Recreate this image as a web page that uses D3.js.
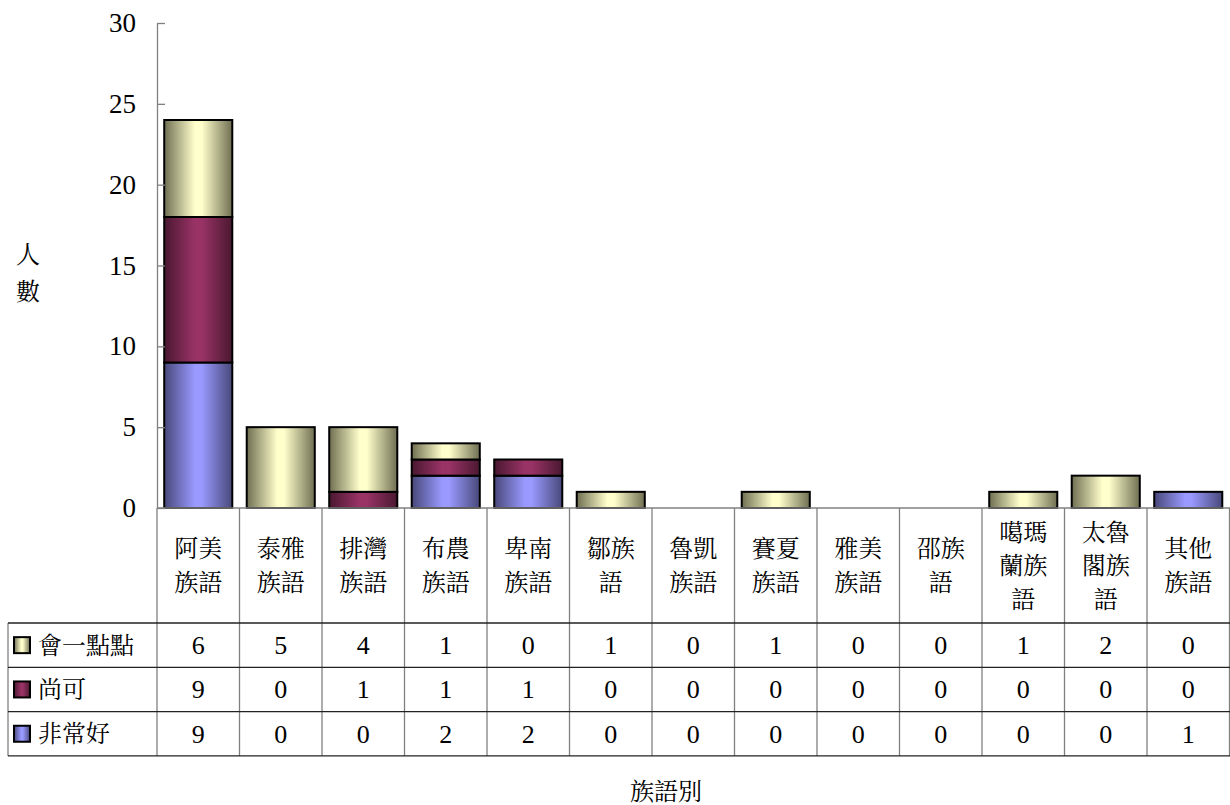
<!DOCTYPE html>
<html><head><meta charset="utf-8">
<script src="https://cdn.jsdelivr.net/npm/d3@7"></script>
<style>
body{margin:0;background:#fff;}
text{font-family:"Liberation Serif","Noto Serif CJK TC","Noto Sans CJK TC",serif;fill:#000;}
text.num{font-family:"Liberation Serif","Times New Roman",serif;}
</style></head>
<body><svg id="chart" width="1230" height="805"></svg>
<script>
const categories = ["阿美\n族語","泰雅\n族語","排灣\n族語","布農\n族語","卑南\n族語","鄒族\n語","魯凱\n族語","賽夏\n族語","雅美\n族語","邵族\n語","噶瑪\n蘭族\n語","太魯\n閣族\n語","其他\n族語"];
const seriesNames = ["會一點點","尚可","非常好"];
const huiYiDianDian = [6,5,4,1,0,1,0,1,0,0,1,2,0];
const shangKe = [9,0,1,1,1,0,0,0,0,0,0,0,0];
const feiChangHao = [9,0,0,2,2,0,0,0,0,0,0,0,1];
const yTicks = [0,5,10,15,20,25,30];
const yTitle = "人數";
const xTitle = "族語別";

const seriesData = [huiYiDianDian, shangKe, feiChangHao];
const colors = [
  {edge:"#6f6f52", mid:"#ffffcc"},
  {edge:"#4a1830", mid:"#993366"},
  {edge:"#48487a", mid:"#9999ff"}
];

const svg = d3.select("#chart");
const plotLeft = 157, plotRight = 1229.5, plotTop = 23, plotBottom = 508;
const tableLeft = 8;
const headerBottom = 623, rowH = 44.3;

const defs = svg.append("defs");
colors.forEach((c,i)=>{
  const g = defs.append("linearGradient").attr("id","g"+i).attr("x1","0").attr("x2","1").attr("y1","0").attr("y2","0");
  g.append("stop").attr("offset","0%").attr("stop-color",c.edge);
  g.append("stop").attr("offset","45%").attr("stop-color",c.mid);
  g.append("stop").attr("offset","55%").attr("stop-color",c.mid);
  g.append("stop").attr("offset","100%").attr("stop-color",c.edge);
});

const x = d3.scaleBand().domain(d3.range(categories.length)).range([plotLeft,plotRight]).paddingInner(0.175).paddingOuter(0.0875);
const xOuter = d3.scaleBand().domain(d3.range(categories.length)).range([plotLeft,plotRight]);
const y = d3.scaleLinear().domain([0,30]).range([plotBottom,plotTop]);

// stacked bars: bottom 非常好, then 尚可, then 會一點點
const stackOrder = [2,1,0];
const rows = categories.map((c,i)=>{
  const o = {i};
  seriesNames.forEach((s,k)=>{ o[s]=seriesData[k][i]; });
  return o;
});
const stack = d3.stack().keys(stackOrder.map(k=>seriesNames[k]));
const stacked = stack(rows);

stacked.forEach((layer,li)=>{
  const sIdx = stackOrder[li];
  svg.append("g").selectAll("rect").data(layer.filter(d=>d[1]-d[0]>0)).join("rect")
    .attr("x",d=>x(d.data.i)).attr("width",x.bandwidth())
    .attr("y",d=>y(d[1])).attr("height",d=>y(d[0])-y(d[1]))
    .attr("fill","url(#g"+sIdx+")").attr("stroke","#000").attr("stroke-width",2);
});

// y axis
const yAxis = d3.axisLeft(y).tickValues(yTicks).tickSizeInner(-8).tickSizeOuter(0).tickPadding(21);
const ya = svg.append("g").attr("transform",`translate(${plotLeft},0)`).call(yAxis);
ya.select(".domain").attr("stroke","#808080").attr("stroke-width",1.3);
ya.selectAll(".tick line").attr("stroke","#808080").attr("stroke-width",1.3);
ya.selectAll(".tick text").attr("class","num").attr("font-size",27).attr("fill","#000");

// table
const tg = svg.append("g");
tg.append("line").attr("x1",plotLeft).attr("x2",1230).attr("y1",plotBottom).attr("y2",plotBottom).attr("stroke","#808080").attr("stroke-width",1.3);
d3.range(categories.length+1).forEach(i=>{
  const xx = i<categories.length ? xOuter(i) : plotRight;
  tg.append("line").attr("x1",xx).attr("x2",xx).attr("y1",plotBottom).attr("y2",headerBottom+3*rowH).attr("stroke","#808080").attr("stroke-width",1.3);
});
tg.append("line").attr("x1",tableLeft).attr("x2",tableLeft).attr("y1",headerBottom).attr("y2",headerBottom+3*rowH).attr("stroke","#808080").attr("stroke-width",1.3);
d3.range(4).forEach(r=>{
  tg.append("line").attr("x1",tableLeft).attr("x2",1230).attr("y1",headerBottom+r*rowH).attr("y2",headerBottom+r*rowH).attr("stroke","#222").attr("stroke-width",1.3);
});

// category labels
const lineH = 33.5;
categories.forEach((c,i)=>{
  const lines = c.split("\n");
  const cx = xOuter(i)+xOuter.bandwidth()/2;
  const mid = (plotBottom+headerBottom)/2;
  const t = tg.append("text").attr("text-anchor","middle").attr("font-size",24);
  lines.forEach((l,k)=>{
    t.append("tspan").attr("x",cx).attr("y",mid+(k-(lines.length-1)/2)*lineH).attr("dy","0.36em").text(l);
  });
});

// legend rows and values
seriesNames.forEach((s,k)=>{
  const cy = headerBottom + k*rowH + rowH/2;
  tg.append("rect").attr("x",14).attr("y",cy-8).attr("width",16).attr("height",16)
    .attr("fill","url(#g"+k+")").attr("stroke","#000").attr("stroke-width",2);
  tg.append("text").attr("x",38).attr("y",cy).attr("dy","0.36em").attr("font-size",24).text(s);
  seriesData[k].forEach((v,i)=>{
    tg.append("text").attr("class","num").attr("x",xOuter(i)+xOuter.bandwidth()/2).attr("y",cy).attr("dy","0.34em")
      .attr("text-anchor","middle").attr("font-size",26).text(v);
  });
});

// y title (vertical stacked chars)
const yt = svg.append("text").attr("text-anchor","middle").attr("font-size",24);
yTitle.split("").forEach((ch,k)=>{
  yt.append("tspan").attr("x",28).attr("y",254+k*37).attr("dy","0.36em").text(ch);
});
// x title
svg.append("text").attr("x",666).attr("y",791).attr("dy","0.36em").attr("text-anchor","middle").attr("font-size",24).text(xTitle);
</script>
</body></html>
